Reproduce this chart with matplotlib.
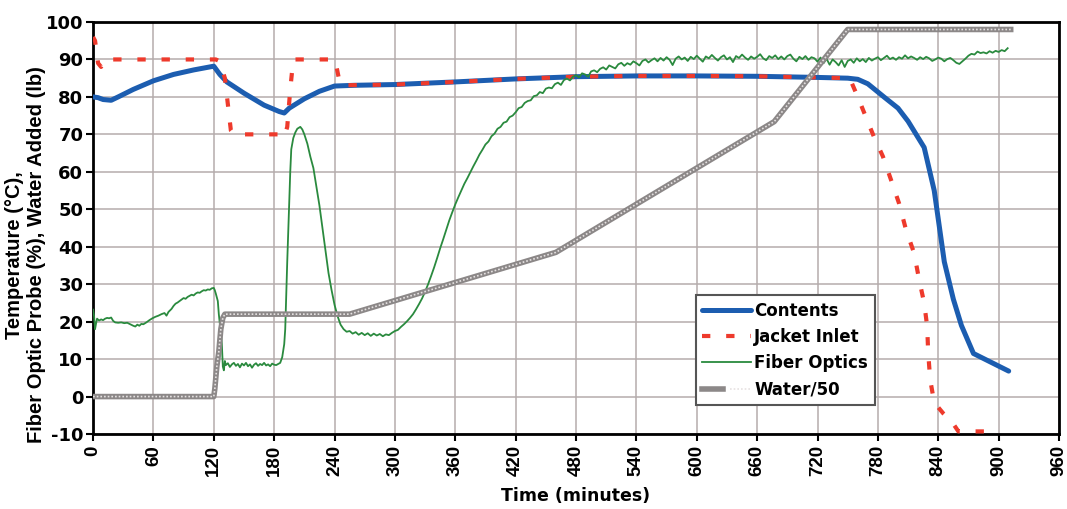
import matplotlib
matplotlib.use("Agg")
import matplotlib.pyplot as plt
from matplotlib.legend_handler import HandlerTuple

# ---------------- data ----------------
contents_time = [0, 5, 10, 18, 25, 40, 60, 80, 100, 120, 126, 133, 150, 170, 185, 190, 195, 210, 225, 240,
                 260, 300, 360, 420, 480, 540, 600, 660, 720, 750, 760, 770, 786, 800, 810, 826, 836, 846,
                 855, 863, 875, 910]
contents_temp = [80.0, 79.8, 79.3, 79.1, 80.0, 82.0, 84.3, 86.0, 87.2, 88.2, 86.0, 84.0, 81.0, 77.8, 76.1, 75.7,
                 77.0, 79.5, 81.5, 82.9, 83.1, 83.3, 84.0, 84.8, 85.4, 85.6, 85.6, 85.5, 85.2, 85.0, 84.7, 83.5,
                 80.0, 77.0, 73.5, 66.5, 55.0, 36.0, 26.0, 19.0, 11.5, 6.8]

jacket_time = [0, 2, 5, 8, 12, 122, 126, 131, 134, 137, 140, 185, 190, 193, 196, 199, 240, 242, 245, 248,
               300, 360, 420, 480, 540, 600, 660, 720, 752, 760, 768, 776, 785, 793, 801, 808, 816, 821,
               826, 829, 830, 832, 836, 845, 853, 860, 900]
jacket_temp = [96.0, 95.0, 89.0, 88.0, 90.0, 90.0, 89.5, 85.0, 78.0, 71.0, 70.0, 70.0, 69.2, 72.0, 82.0, 90.0,
               90.0, 88.0, 84.0, 83.1, 83.3, 84.0, 84.8, 85.4, 85.6, 85.6, 85.5, 85.2, 85.0, 80.0, 74.7, 69.4,
               64.1, 57.9, 51.6, 44.5, 38.3, 31.2, 25.0, 18.7, 11.7, 4.5, -1.6, -4.5, -6.5, -9.3, -9.3]

fiber_points = [
    (0, 23.2), (1, 21.5), (2, 18.0), (3, 19.5), (4, 20.8), (6, 20.3), (8, 20.6), (10, 20.4), (12, 20.8),
    (14, 21.0), (16, 20.9), (18, 21.1), (20, 20.2), (22, 19.8), (25, 19.7), (28, 19.8), (31, 19.6),
    (34, 19.7), (37, 19.3), (40, 18.9), (42, 18.7), (44, 19.2), (46, 18.9), (48, 19.4), (50, 19.3),
    (53, 19.8), (56, 20.4), (59, 20.9), (62, 21.3), (65, 21.6), (68, 22.0), (71, 22.3), (73, 21.6),
    (75, 22.6), (78, 23.4), (80, 24.2), (82, 24.8), (84, 25.1), (86, 25.5), (88, 25.9), (90, 26.3),
    (92, 26.1), (94, 26.6), (96, 26.9), (98, 27.2), (100, 27.0), (102, 27.5), (104, 27.8), (106, 27.7),
    (108, 28.1), (110, 28.4), (112, 28.3), (114, 28.6), (116, 28.5), (118, 28.9), (120, 29.0), (121, 28.4),
    (122, 27.5), (124, 25.5), (125, 22.0), (126, 19.5), (127, 17.5), (128, 14.0), (129, 8.0), (130, 7.0),
    (131, 9.5), (132, 8.4), (134, 8.9), (136, 7.9), (138, 8.6), (140, 9.0), (142, 8.2), (144, 8.7),
    (146, 7.8), (148, 8.8), (150, 8.3), (152, 9.0), (154, 8.1), (156, 8.6), (158, 7.7), (160, 8.5),
    (162, 8.9), (164, 8.2), (166, 8.7), (168, 8.4), (170, 9.0), (172, 8.3), (174, 8.6), (176, 8.1),
    (178, 8.8), (180, 8.5), (182, 8.4), (184, 8.7), (186, 9.0), (188, 10.5), (190, 14.0), (191, 18.0),
    (192, 27.0), (193, 36.0), (194, 44.0), (195, 52.0), (196, 60.0), (197, 66.0), (199, 69.0),
    (201, 70.5), (203, 71.5), (206, 72.0), (208, 71.3), (210, 70.0), (213, 67.5), (216, 64.0),
    (219, 61.0), (222, 56.0), (225, 51.0), (228, 45.0), (231, 39.0), (234, 33.0), (237, 28.5),
    (240, 24.5), (243, 21.5), (246, 19.2), (249, 18.0), (252, 17.3), (255, 17.5), (258, 16.8),
    (261, 17.2), (264, 16.5), (267, 17.0), (270, 16.4), (273, 16.9), (276, 16.2), (279, 16.8),
    (282, 16.3), (285, 16.7), (288, 16.1), (291, 16.6), (294, 16.4), (297, 17.0), (300, 17.5),
    (303, 17.8), (306, 18.6), (309, 19.3), (312, 20.1), (315, 21.0), (318, 22.0), (321, 23.3),
    (324, 24.7), (327, 26.2), (330, 28.0), (333, 30.0), (336, 32.2), (339, 34.5), (342, 37.0),
    (345, 39.6), (348, 42.0), (351, 44.5), (354, 47.0), (357, 49.2), (360, 51.3), (363, 53.2),
    (366, 55.0), (369, 56.8), (372, 58.3), (375, 59.9), (378, 61.5), (381, 63.0), (384, 64.6),
    (387, 65.9), (390, 67.3), (393, 68.1), (396, 69.5), (399, 70.2), (402, 71.5), (405, 72.0),
    (408, 73.1), (411, 73.4), (414, 74.6), (417, 75.0), (420, 75.9), (423, 77.0), (426, 77.3),
    (429, 78.4), (432, 78.9), (435, 79.1), (438, 80.2), (441, 80.4), (444, 81.3), (447, 81.0),
    (450, 82.2), (453, 82.5), (456, 82.3), (459, 83.4), (462, 83.8), (465, 83.2), (468, 84.5),
    (471, 84.9), (474, 84.4), (477, 85.4), (480, 85.8), (483, 85.2), (486, 86.3), (489, 86.0),
    (492, 85.4), (495, 86.8), (498, 87.1), (501, 86.6), (504, 87.5), (507, 87.9), (510, 87.3),
    (513, 88.4), (516, 88.0), (519, 87.6), (522, 88.7), (525, 89.1), (528, 88.3), (531, 89.0),
    (534, 88.6), (537, 89.5), (540, 89.0), (543, 88.4), (546, 89.6), (549, 90.0), (552, 89.2),
    (555, 89.8), (558, 90.3), (561, 89.5), (564, 90.4), (567, 89.7), (570, 90.6), (573, 89.9),
    (576, 88.5), (579, 90.2), (582, 90.8), (585, 90.0), (588, 90.5), (591, 89.6), (594, 90.7),
    (597, 90.1), (600, 91.0), (603, 90.2), (606, 89.4), (609, 90.8), (612, 90.3), (615, 91.2),
    (618, 90.4), (621, 89.7), (624, 90.6), (627, 91.1), (630, 90.0), (633, 90.6), (636, 89.3),
    (639, 90.9), (642, 90.4), (645, 91.3), (648, 90.5), (651, 89.9), (654, 90.8), (657, 90.2),
    (660, 90.7), (663, 91.4), (666, 90.3), (669, 89.8), (672, 90.9), (675, 90.4), (678, 91.1),
    (681, 90.1), (684, 90.8), (687, 90.0), (690, 90.9), (693, 91.3), (696, 90.2), (699, 89.5),
    (702, 90.7), (705, 90.1), (708, 90.9), (711, 89.9), (714, 90.6), (717, 90.3), (720, 89.4),
    (723, 90.5), (726, 89.0), (729, 90.2), (732, 88.6), (735, 90.0), (738, 89.3), (741, 88.4),
    (744, 89.8), (747, 88.0), (750, 89.6), (753, 90.0), (756, 89.1), (759, 90.3), (762, 89.5),
    (765, 90.1), (768, 89.3), (771, 90.4), (774, 89.7), (777, 90.2), (780, 90.6), (783, 89.8),
    (786, 90.4), (789, 91.0), (792, 90.1), (795, 90.5), (798, 89.9), (801, 90.6), (804, 90.2),
    (807, 91.1), (810, 90.3), (813, 90.8), (816, 90.4), (819, 89.9), (822, 90.6), (825, 90.1),
    (828, 90.7), (831, 90.3), (834, 89.6), (837, 90.0), (840, 90.5), (843, 90.2), (846, 89.5),
    (849, 90.1), (852, 90.4), (855, 89.8), (858, 89.1), (861, 88.8), (864, 89.5), (867, 90.2),
    (870, 91.0), (873, 91.5), (876, 91.3), (879, 92.1), (882, 91.7), (885, 91.9), (888, 91.6),
    (891, 92.2), (894, 91.8), (897, 92.3), (900, 92.0), (903, 92.5), (906, 92.2), (909, 93.0),
]

water_time = [0, 120, 121, 123, 125, 127, 129, 131, 255, 460, 677, 750, 912]
water_value = [0.0, 0.0, 2.0, 8.0, 12.0, 18.0, 21.0, 22.0, 22.0, 38.5, 73.4, 98.0, 98.0]

x_ticks = list(range(0, 961, 60))
y_ticks = list(range(-10, 101, 10))

series_labels = ["Contents", "Jacket Inlet", "Fiber Optics", "Water/50"]

# ---------------- plotting ----------------
plt.rcParams["font.family"] = ["DejaVu Sans"]
plt.rcParams["font.weight"] = "bold"
plt.rcParams["axes.unicode_minus"] = False

NARROW = ["Liberation Sans", "DejaVu Sans"]

fig = plt.figure(figsize=(10.67, 5.09), dpi=100)
ax = fig.add_axes([0.0872, 0.1473, 0.9053, 0.8095])

fiber_time = [p[0] for p in fiber_points]
fiber_value = [p[1] for p in fiber_points]

l_contents, = ax.plot(contents_time, contents_temp, color="#1c5db0", lw=3.6, zorder=3,
                      solid_capstyle="round")
l_jacket, = ax.plot(jacket_time, jacket_temp, color="#ee3a2c", lw=3.0, ls=(0, (2.0, 3.8)), zorder=4)
l_fiber, = ax.plot(fiber_time, fiber_value, color="#2a8a3e", lw=1.3, zorder=5)
l_water_a, = ax.plot(water_time, water_value, color="#8c8888", lw=4.0, zorder=6)
l_water_b, = ax.plot(water_time, water_value, color="#e6e2e2", lw=1.2, ls=(0, (1.0, 1.2)), zorder=7)

ax.set_xlim(0, 960)
ax.set_ylim(-10, 100)
ax.set_xticks(x_ticks)
ax.set_yticks(y_ticks)
ax.tick_params(axis="x", labelrotation=90, labelsize=13.5, length=5, width=1.5, direction="out", pad=3)
ax.tick_params(axis="y", labelsize=13, length=5, width=1.5, direction="out", pad=2)
for lab in ax.get_xticklabels():
    lab.set_fontweight("bold")
    lab.set_family(NARROW)
for lab in ax.get_yticklabels():
    lab.set_fontweight("bold")

ax.grid(True, color="#b5acac", lw=1.1, zorder=0)
ax.set_axisbelow(True)
for s in ax.spines.values():
    s.set_linewidth(2.0)
    s.set_color("black")

ax.set_xlabel("Time (minutes)", fontsize=12.5, fontweight="bold", labelpad=8)
ax.set_ylabel("Temperature (\u00b0C),\nFiber Optic Probe (%), Water Added (lb)", fontsize=14.5,
              fontweight="bold", linespacing=1.15, family=NARROW)
ax.yaxis.set_label_coords(-0.049, 0.435)

leg = ax.legend([l_contents, l_jacket, l_fiber, (l_water_a, l_water_b)], series_labels,
                handler_map={tuple: HandlerTuple(ndivide=None)},
                loc="lower left", bbox_to_anchor=(0.624, 0.07), frameon=True, fancybox=False,
                framealpha=1, edgecolor="#555555", fontsize=12, handlelength=2.9,
                handletextpad=0.2, borderpad=0.4, labelspacing=0.5, borderaxespad=0)
leg.get_frame().set_linewidth(1.5)
for t in leg.get_texts():
    t.set_fontweight("bold")

fig.savefig("out.png", dpi=100)
